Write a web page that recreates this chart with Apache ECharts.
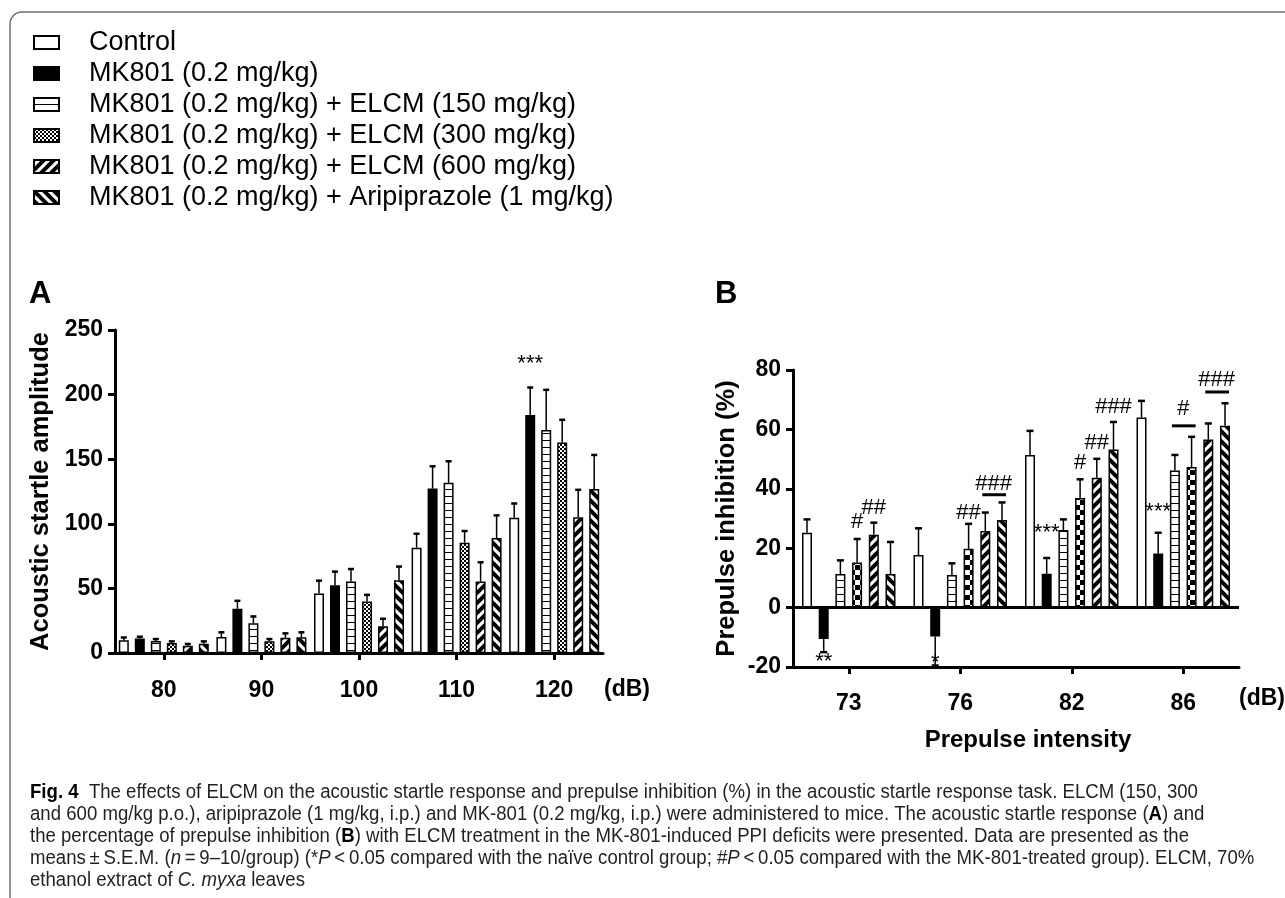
<!DOCTYPE html>
<html>
<head>
<meta charset="utf-8">
<script src="https://cdn.jsdelivr.net/npm/echarts@6/dist/echarts.min.js"></script>
<style>
  html, body { margin: 0; padding: 0; background: #fff; }
  #chart { width: 1285px; height: 898px; }
</style>
</head>
<body>
<div id="chart"></div>
<script>
// treatment groups (legend order)
const groupNames = [
  'Control',
  'MK801 (0.2 mg/kg)',
  'MK801 (0.2 mg/kg) + ELCM (150 mg/kg)',
  'MK801 (0.2 mg/kg) + ELCM (300 mg/kg)',
  'MK801 (0.2 mg/kg) + ELCM (600 mg/kg)',
  'MK801 (0.2 mg/kg) + Aripiprazole (1 mg/kg)'
]

// panel A: acoustic startle amplitude, mean and S.E.M.
const startleDb = ['80', '90', '100', '110', '120']
const startleControl = [9.8, 12.3, 46.0, 81.5, 104.7]
const startleMK801 = [11.3, 34.2, 52.5, 127.3, 184.2]
const startleE150 = [9.3, 23.1, 55.3, 131.7, 172.6]
const startleE300 = [7.7, 9.0, 39.9, 85.4, 163.0]
const startleE600 = [5.7, 11.8, 20.8, 55.3, 105.0]
const startleArip = [7.2, 12.1, 56.3, 89.0, 127.0]
const startleControlSem = [2.2, 3.7, 10.0, 10.8, 11.0]
const startleMK801Sem = [1.3, 6.2, 10.5, 17.2, 21.3]
const startleE150Sem = [1.5, 5.2, 9.7, 16.7, 31.1]
const startleE300Sem = [1.3, 1.8, 5.1, 9.0, 17.5]
const startleE600Sem = [1.3, 3.4, 5.7, 14.9, 21.3]
const startleAripSem = [1.8, 3.9, 10.6, 17.5, 26.3]

// panel B: prepulse inhibition (%), mean and S.E.M.
const ppiDb = ['73', '76', '82', '86']
const ppiControl = [25.2, 17.7, 51.4, 64.0]
const ppiMK801 = [-10.6, -9.7, 11.4, 18.2]
const ppiE150 = [11.3, 11.0, 26.1, 46.2]
const ppiE300 = [15.2, 19.8, 36.9, 47.3]
const ppiE600 = [24.5, 25.8, 43.7, 56.6]
const ppiArip = [11.3, 29.5, 53.2, 61.2]
const ppiControlSem = [4.5, 9.0, 8.1, 5.6]
const ppiMK801Sem = [4.4, 9.8, 5.3, 7.0]
const ppiE150Sem = [4.6, 3.9, 3.6, 5.2]
const ppiE300Sem = [7.9, 8.4, 6.3, 10.2]
const ppiE600Sem = [4.1, 6.2, 6.4, 5.4]
const ppiAripSem = [10.8, 5.9, 9.3, 7.6]

// significance marks: [category, first group, last group, y, text, bar y]
const startleMarks = [
  [4, 1, 1, 224, '***', null]
]
const ppiMarks = [
  [0, 1, 1, -18.2, '**', null],
  [1, 1, 1, -18.5, '*', null],
  [0, 3, 3, 28.9, '#', null],
  [0, 4, 4, 33.6, '##', null],
  [1, 3, 3, 31.9, '##', null],
  [1, 4, 5, 41.7, '###', 38.0],
  [2, 1, 1, 25.2, '***', null],
  [2, 3, 3, 48.7, '#', null],
  [2, 4, 4, 55.5, '##', null],
  [2, 5, 5, 67.6, '###', null],
  [3, 1, 1, 32.3, '***', null],
  [3, 2, 3, 66.9, '#', 61.2],
  [3, 4, 5, 76.6, '###', 72.6]
]

const startleMeans = [startleControl, startleMK801, startleE150, startleE300, startleE600, startleArip]
const startleSems = [startleControlSem, startleMK801Sem, startleE150Sem, startleE300Sem, startleE600Sem, startleAripSem]
const ppiMeans = [ppiControl, ppiMK801, ppiE150, ppiE300, ppiE600, ppiArip]
const ppiSems = [ppiControlSem, ppiMK801Sem, ppiE150Sem, ppiE300Sem, ppiE600Sem, ppiAripSem]

const font = 'Liberation Sans, Arial, sans-serif'
const barW = 10
const gapA = 0.6
const gapB = 0.67

function makePattern(kind, p) {
  const c = document.createElement('canvas')
  const ctx = c.getContext('2d')
  if (kind === 'lines') {
    c.width = 4; c.height = p
    ctx.fillStyle = '#fff'; ctx.fillRect(0, 0, 4, p)
    ctx.fillStyle = '#000'; ctx.fillRect(0, p - 1, 4, 1)
  } else if (kind === 'checker') {
    c.width = 2 * p; c.height = 2 * p
    ctx.fillStyle = '#fff'; ctx.fillRect(0, 0, 2 * p, 2 * p)
    ctx.fillStyle = '#000'; ctx.fillRect(0, 0, p, p); ctx.fillRect(p, p, p, p)
  } else {
    c.width = p; c.height = p
    ctx.fillStyle = '#fff'; ctx.fillRect(0, 0, p, p)
    ctx.strokeStyle = '#000'; ctx.lineWidth = p * 0.4
    ctx.beginPath()
    if (kind === 'up') {
      ctx.moveTo(-1, p + 1); ctx.lineTo(p + 1, -1)
      ctx.moveTo(-p / 2 - 1, p / 2 + 1); ctx.lineTo(p / 2 + 1, -p / 2 - 1)
      ctx.moveTo(p / 2 - 1, 1.5 * p + 1); ctx.lineTo(1.5 * p + 1, p / 2 - 1)
    } else {
      ctx.moveTo(-1, -1); ctx.lineTo(p + 1, p + 1)
      ctx.moveTo(-p / 2 - 1, p / 2 - 1); ctx.lineTo(p / 2 + 1, 1.5 * p + 1)
      ctx.moveTo(p / 2 - 1, -p / 2 - 1); ctx.lineTo(1.5 * p + 1, p / 2 + 1)
    }
    ctx.stroke()
  }
  return { image: c, repeat: 'repeat' }
}

const fillsA = ['#fff', '#000', makePattern('lines', 7), makePattern('checker', 2), makePattern('up', 10), makePattern('down', 10)]
const fillsB = ['#fff', '#000', makePattern('lines', 7), makePattern('checker', 5), makePattern('up', 10), makePattern('down', 10)]

function barSeries(means, fills, gap, axis) {
  return means.map((vals, k) => ({
    type: 'bar',
    name: groupNames[k],
    xAxisIndex: axis,
    yAxisIndex: axis,
    data: vals,
    barWidth: barW,
    barGap: (gap * 100) + '%',
    itemStyle: { color: fills[k], borderColor: '#000', borderWidth: 1.5 },
    emphasis: { disabled: true }
  }))
}

function errorSeries(means, sems, gap, axis, cap) {
  const data = []
  means.forEach((vals, k) => vals.forEach((v, i) => data.push([i, v, sems[k][i], k])))
  const step = barW * (1 + gap)
  return {
    type: 'custom',
    xAxisIndex: axis,
    yAxisIndex: axis,
    silent: true,
    encode: { x: 0, y: 1 },
    data: data,
    renderItem(params, api) {
      const mean = api.value(1)
      const end = mean >= 0 ? mean + api.value(2) : mean - api.value(2)
      const p0 = api.coord([api.value(0), mean])
      const p1 = api.coord([api.value(0), end])
      const x = p0[0] + (api.value(3) - 2.5) * step
      return {
        type: 'group',
        children: [
          { type: 'line', shape: { x1: x, y1: p0[1], x2: x, y2: p1[1] }, style: { stroke: '#000', lineWidth: 1.5 } },
          { type: 'line', shape: { x1: x - cap, y1: p1[1], x2: x + cap, y2: p1[1] }, style: { stroke: '#000', lineWidth: 2.5 } }
        ]
      }
    }
  }
}

function markSeries(marks, gap, axis) {
  const step = barW * (1 + gap)
  return {
    type: 'custom',
    xAxisIndex: axis,
    yAxisIndex: axis,
    silent: true,
    data: marks.map(m => [m[0], m[3]]),
    encode: { x: 0, y: 1 },
    renderItem(params, api) {
      const m = marks[params.dataIndex]
      const p = api.coord([m[0], m[3]])
      const x0 = p[0] + (m[1] - 2.5) * step
      const x1 = p[0] + (m[2] - 2.5) * step
      const children = [{
        type: 'text',
        x: (x0 + x1) / 2,
        y: p[1],
        style: { text: m[4], font: '22px ' + font, fill: '#000', align: 'center', verticalAlign: 'middle' }
      }]
      if (m[5] !== null) {
        const ly = api.coord([m[0], m[5]])[1]
        children.push({ type: 'line', shape: { x1: x0 - 3, y1: ly, x2: x1 + 4, y2: ly }, style: { stroke: '#000', lineWidth: 3 } })
      }
      return { type: 'group', children: children }
    }
  }
}

const axisLine = { show: true, onZero: false, lineStyle: { color: '#000', width: 3 } }
const axisTick = { show: true, length: 7, lineStyle: { color: '#000', width: 3 } }
const tickFont = { fontSize: 23, fontWeight: 'bold', color: '#000', fontFamily: font }
const nameFont = { fontSize: 25.5, fontWeight: 'bold', color: '#000', fontFamily: font }

const chart = echarts.init(document.getElementById('chart'))

const ppiSeries = barSeries(ppiMeans, fillsB, gapB, 1)
ppiSeries[0].markLine = {
  silent: true,
  symbol: 'none',
  label: { show: false },
  lineStyle: { color: '#000', width: 3, type: 'solid' },
  data: [{ yAxis: 0 }]
}

const caption = [
  '{b|Fig. 4}  The effects of ELCM on the acoustic startle response and prepulse inhibition (%) in the acoustic startle response task. ELCM (150, 300',
  'and 600 mg/kg p.o.), aripiprazole (1 mg/kg, i.p.) and MK-801 (0.2 mg/kg, i.p.) were administered to mice. The acoustic startle response ({b|A}) and',
  'the percentage of prepulse inhibition ({b|B}) with ELCM treatment in the MK-801-induced PPI deficits were presented. Data are presented as the',
  'means\u2009\u00b1\u2009S.E.M. ({i|n}\u2009=\u20099\u201310/group) (*{i|P}\u2009<\u20090.05 compared with the na\u00efve control group; #{i|P}\u2009<\u20090.05 compared with the MK-801-treated group). ELCM, 70%',
  'ethanol extract of {i|C. myxa} leaves'
]
const capSize = 20
const capFont = { fontSize: capSize, fontFamily: font, fill: '#231f20' }

chart.setOption({
  animation: false,
  textStyle: { fontFamily: font },
  legend: {
    orient: 'vertical',
    left: 28,
    top: 24,
    icon: 'rect',
    itemWidth: 25,
    itemHeight: 13,
    itemGap: 4,
    selectedMode: false,
    data: groupNames,
    textStyle: { fontSize: 27, lineHeight: 27, color: '#000', fontFamily: font, padding: [0, 0, 0, 25] }
  },
  grid: [
    { left: 115, top: 330, width: 488, height: 323 },
    { left: 793, top: 370, width: 446, height: 297 }
  ],
  xAxis: [
    {
      type: 'category', gridIndex: 0, data: startleDb,
      axisLine: axisLine, axisTick: Object.assign({ alignWithLabel: true }, axisTick),
      axisLabel: Object.assign({ margin: 26 }, tickFont)
    },
    {
      type: 'category', gridIndex: 1, data: ppiDb,
      axisLine: axisLine, axisTick: Object.assign({ alignWithLabel: true }, axisTick),
      axisLabel: Object.assign({ margin: 25 }, tickFont)
    }
  ],
  yAxis: [
    {
      type: 'value', gridIndex: 0, min: 0, max: 250, interval: 50,
      axisLine: axisLine, axisTick: axisTick, splitLine: { show: false },
      axisLabel: Object.assign({ margin: 12 }, tickFont),
      name: 'Acoustic startle amplitude', nameLocation: 'middle', nameGap: 61,
      nameTextStyle: nameFont
    },
    {
      type: 'value', gridIndex: 1, min: -20, max: 80, interval: 20,
      axisLine: axisLine, axisTick: axisTick, splitLine: { show: false },
      axisLabel: Object.assign({ margin: 12 }, tickFont),
      name: 'Prepulse inhibition (%)', nameLocation: 'middle', nameGap: 53,
      nameTextStyle: nameFont
    }
  ],
  graphic: [
    { type: 'rect', shape: { x: 10, y: 12, width: 1400, height: 1000, r: 12 }, style: { fill: 'none', stroke: '#6e6e6e', lineWidth: 1.5 }, silent: true },
    { type: 'text', x: 29, y: 279, style: { text: 'A', font: 'bold 31px ' + font, fill: '#000' } },
    { type: 'text', x: 715, y: 279, style: { text: 'B', font: 'bold 31px ' + font, fill: '#000' } },
    { type: 'text', x: 604, y: 690, style: { text: '(dB)', font: 'bold 23px ' + font, fill: '#000', verticalAlign: 'middle' } },
    { type: 'text', x: 1239, y: 699, style: { text: '(dB)', font: 'bold 23px ' + font, fill: '#000', verticalAlign: 'middle' } },
    { type: 'text', x: 1028, y: 740, style: { text: 'Prepulse intensity', font: 'bold 24px ' + font, fill: '#000', align: 'center', verticalAlign: 'middle' } }
  ].concat(caption.map((line, i) => ({
    type: 'text',
    x: 30,
    y: 792 + i * 22,
    scaleX: 0.93,
    style: Object.assign({
      text: line,
      verticalAlign: 'middle',
      rich: {
        b: { fontSize: capSize, fontFamily: font, fontWeight: 'bold', fill: '#000' },
        i: { fontSize: capSize, fontFamily: font, fontStyle: 'italic', fill: '#231f20' }
      }
    }, capFont)
  }))),
  series: []
    .concat(barSeries(startleMeans, fillsA, gapA, 0))
    .concat(ppiSeries)
    .concat([
      errorSeries(startleMeans, startleSems, gapA, 0, 3),
      errorSeries(ppiMeans, ppiSems, gapB, 1, 3.5),
      markSeries(startleMarks, gapA, 0),
      markSeries(ppiMarks, gapB, 1)
    ])
})
</script>
</body>
</html>
